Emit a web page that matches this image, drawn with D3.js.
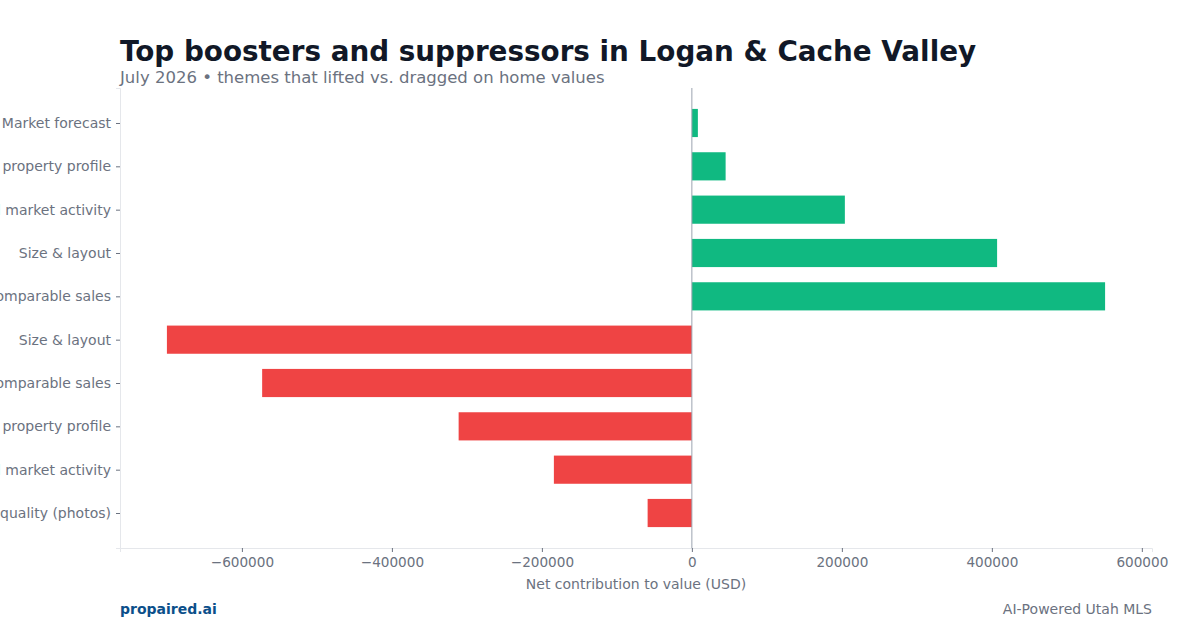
<!DOCTYPE html>
<html>
<head>
<meta charset="utf-8">
<script src="https://cdn.jsdelivr.net/npm/d3@7"></script>
<style>
  body { margin: 0; background: #fff; }
  svg { display: block; font-family: "DejaVu Sans", sans-serif; }
</style>
</head>
<body>
<div id="chart"></div>
<script>
// themes, top to bottom as drawn (long names run off the left edge, as in the original)
var themes = [
  "Market forecast",
  "Overall property profile",
  "Local market activity",
  "Size & layout",
  "Comparable sales",
  "Size & layout",
  "Comparable sales",
  "Overall property profile",
  "Local market activity",
  "Listing quality (photos)"
];
var impacts = [8000, 45000, 204000, 407000, 551000, -700000, -573000, -311000, -184000, -59000];
var xTicks = [-600000, -400000, -200000, 0, 200000, 400000, 600000];

var W = 1200, H = 630;
var margin = {top: 88, right: 48, bottom: 82, left: 120},
    width = W - margin.left - margin.right,
    height = H - margin.top - margin.bottom;

var svg = d3.select("#chart")
  .append("svg")
    .attr("width", W)
    .attr("height", H);

// title + subtitle
svg.append("text")
  .attr("x", 120).attr("y", 61)
  .style("font-size", "27.8px").style("font-weight", "bold")
  .style("fill", "#111827")
  .text("Top boosters and suppressors in Logan & Cache Valley");
svg.append("text")
  .attr("x", 120).attr("y", 83)
  .style("font-size", "16.5px").style("fill", "#6b7280")
  .text("July 2026 \u2022 themes that lifted vs. dragged on home values");

var g = svg.append("g")
  .attr("transform", "translate(" + margin.left + "," + margin.top + ")");

// matplotlib-like 5% padding around data
var lo = d3.min(impacts), hi = d3.max(impacts);
var pad = (hi - lo) * 0.05;
var x = d3.scaleLinear()
  .domain([lo - pad, hi + pad])
  .range([0, width]);

// categorical positions 0..n-1 with bar height 0.65 and 5% margin
var n = themes.length, bh = 0.65;
var yLo = -bh / 2, yHi = n - 1 + bh / 2, ypad = (yHi - yLo) * 0.05;
var y = d3.scaleLinear()
  .domain([yLo - ypad, yHi + ypad])
  .range([0, height]);

// bars
g.selectAll("rect.bar")
  .data(impacts)
  .enter()
  .append("rect")
    .attr("class", "bar")
    .attr("x", function(d) { return x(Math.min(0, d)); })
    .attr("y", function(d, i) { return y(i - bh / 2); })
    .attr("width", function(d) { return Math.abs(x(d) - x(0)); })
    .attr("height", y(bh) - y(0))
    .style("fill", function(d) { return d >= 0 ? "#10b981" : "#ef4444"; });

// zero line
g.append("line")
  .attr("x1", x(0)).attr("x2", x(0))
  .attr("y1", 0).attr("y2", height)
  .style("stroke", "#9ca3af").style("stroke-width", 1);

// y axis
var yAxis = g.append("g")
  .call(d3.axisLeft(y)
    .tickValues(d3.range(n))
    .tickFormat(function(i) { return themes[i]; })
    .tickSize(4).tickPadding(5));
yAxis.select(".domain").style("stroke", "#e5e7eb");
yAxis.selectAll(".tick line").style("stroke", "#6b7280");
yAxis.selectAll(".tick text")
  .style("font-size", "14px").style("fill", "#6b7280")
  .style("font-family", "DejaVu Sans, sans-serif");

// x axis
var xAxis = g.append("g")
  .attr("transform", "translate(0," + height + ")")
  .call(d3.axisBottom(x)
    .tickValues(xTicks)
    .tickFormat(function(d) { return d < 0 ? "\u2212" + Math.abs(d) : d; })
    .tickSize(4).tickPadding(5));
xAxis.select(".domain").style("stroke", "#e5e7eb");
xAxis.selectAll(".tick line").style("stroke", "#6b7280");
xAxis.selectAll(".tick text")
  .style("font-size", "13.6px").style("fill", "#6b7280")
  .style("font-family", "DejaVu Sans, sans-serif");

// x label
g.append("text")
  .attr("x", width / 2).attr("y", height + 41)
  .style("text-anchor", "middle")
  .style("font-size", "14px").style("fill", "#6b7280")
  .text("Net contribution to value (USD)");

// footer
svg.append("text")
  .attr("x", 120).attr("y", 614)
  .style("font-size", "14px").style("font-weight", "bold")
  .style("fill", "#0b4f8a")
  .text("propaired.ai");
svg.append("text")
  .attr("x", 1152).attr("y", 614)
  .style("text-anchor", "end")
  .style("font-size", "14px").style("fill", "#6b7280")
  .text("AI-Powered Utah MLS");
</script>
</body>
</html>
